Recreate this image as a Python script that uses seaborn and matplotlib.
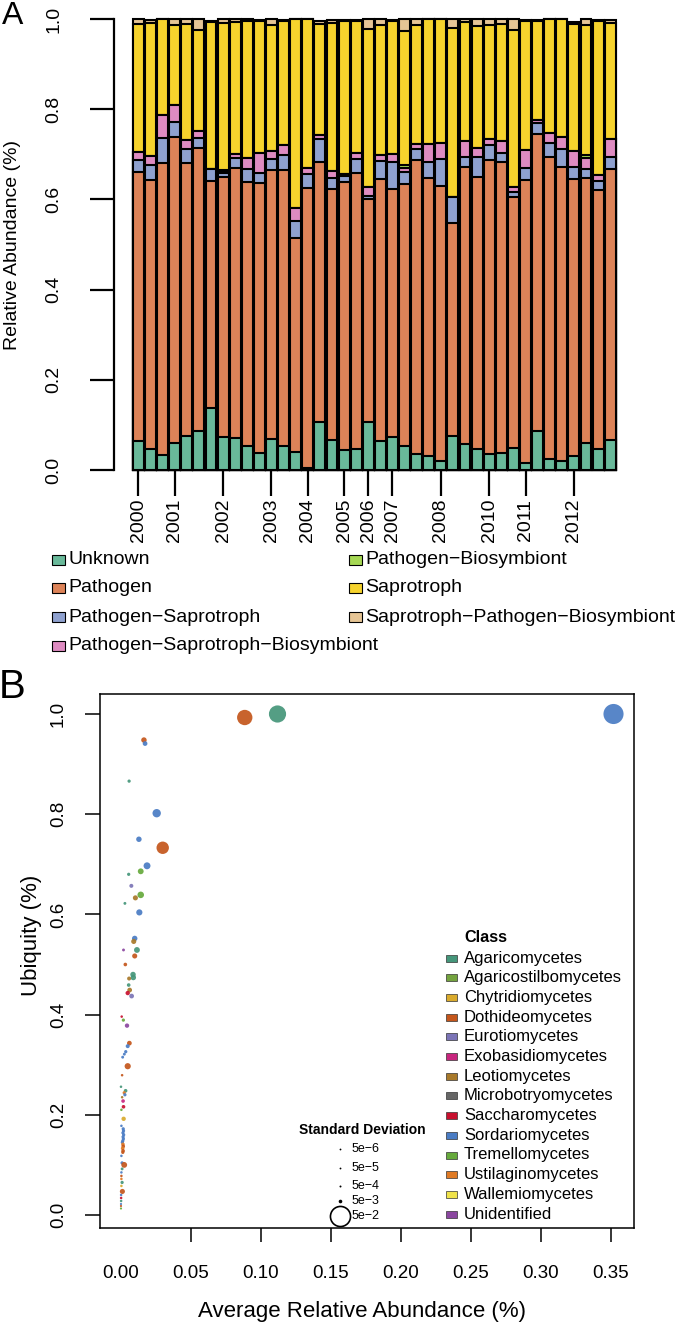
import numpy as np
import pandas as pd
import matplotlib.pyplot as plt
import seaborn as sns
from matplotlib.patches import Rectangle
from matplotlib.lines import Line2D


# PANEL A DATA  (guild share per sample, stacked bottom -> top)

guilds = [
    "Unknown",
    "Pathogen",
    "Pathogen\u2212Saprotroph",
    "Pathogen\u2212Saprotroph\u2212Biosymbiont",
    "Pathogen\u2212Biosymbiont",
    "Saprotroph",
    "Saprotroph\u2212Pathogen\u2212Biosymbiont",
]
guild_colors = ["#69b99a", "#dd8358", "#8fa1cf", "#de8bc1", "#a6d854", "#f6d32d", "#e6c595"]

unknown = [.064, .046, .033, .059, .076, .087, .137, .073, .070, .054,
           .038, .068, .054, .039, .004, .107, .067, .044, .047, .107,
           .065, .073, .054, .036, .030, .019, .075, .058, .046, .036,
           .037, .048, .016, .086, .024, .021, .032, .060, .047, .067]
pathogen = [.596, .596, .647, .679, .605, .627, .503, .576, .599, .585,
            .598, .597, .611, .476, .622, .577, .556, .595, .611, .494,
            .580, .550, .580, .651, .617, .611, .472, .613, .604, .651,
            .647, .558, .628, .659, .671, .650, .613, .587, .574, .600]
path_sap = [.027, .034, .056, .033, .030, .023, .027, .009, .022, .028,
            .023, .025, .034, .038, .030, .049, .024, .014, .032, .006,
            .041, .061, .027, .024, .035, .060, .059, .024, .045, .034,
            .018, .011, .025, .024, .031, .040, .026, .020, .020, .028]
path_sap_bio = [.019, .021, .051, .039, .021, .015, .000, .004, .010, .024,
                .043, .017, .022, .029, .013, .010, .017, .004, .014, .020,
                .013, .016, .008, .012, .042, .036, .000, .035, .020, .012,
                .028, .010, .041, .007, .021, .028, .036, .024, .013, .038]
path_bio = [0, 0, 0, 0, 0, 0, 0, .004, 0, 0,
            0, 0, 0, 0, 0, 0, 0, 0, 0, 0,
            0, 0, .007, 0, 0, 0, 0, 0, 0, 0,
            0, 0, 0, 0, 0, 0, 0, .007, 0, 0]
saprotroph = [.284, .294, .212, .177, .257, .223, .326, .325, .292, .304,
              .293, .280, .274, .417, .330, .246, .327, .338, .291, .351,
              .288, .295, .297, .264, .275, .273, .374, .263, .269, .254,
              .260, .348, .285, .219, .252, .260, .281, .289, .341, .258]
sap_path_bio = [.009, .007, .001, .013, .010, .025, .003, .009, .006, .004,
                .002, .012, .002, .001, .001, .006, .006, .002, .003, .021,
                .012, .003, .026, .012, .001, .001, .019, .006, .015, .012,
                .009, .024, .002, .002, .001, .001, .005, .012, .002, .007]

year_labels = ["2000", "2001", "2002", "2003", "2004", "2005",
               "2006", "2007", "2008", "2010", "2011", "2012"]
year_bars = [0, 3, 7, 11, 14, 17, 19, 21, 25, 29, 32, 36]


# PANEL B DATA  (one point per taxon)

classes = [
    "Agaricomycetes", "Agaricostilbomycetes", "Chytridiomycetes", "Dothideomycetes",
    "Eurotiomycetes", "Exobasidiomycetes", "Leotiomycetes", "Microbotryomycetes",
    "Saccharomycetes", "Sordariomycetes", "Tremellomycetes", "Ustilaginomycetes",
    "Wallemiomycetes", "Unidentified",
]
class_colors = ["#45967a", "#74a33f", "#d9aa2c", "#c4561b", "#7b74b6", "#c8267e", "#a8792a",
                "#666666", "#c8102e", "#4a7cc4", "#66aa3c", "#e07a24", "#efe24a", "#8b46a0"]

point_class = [
    "Sordariomycetes", "Agaricomycetes", "Dothideomycetes", "Dothideomycetes", "Sordariomycetes",
    "Agaricomycetes", "Sordariomycetes", "Sordariomycetes", "Dothideomycetes", "Sordariomycetes",
    "Tremellomycetes", "Agaricomycetes", "Eurotiomycetes", "Tremellomycetes", "Leotiomycetes",
    "Agaricomycetes", "Sordariomycetes", "Sordariomycetes", "Leotiomycetes", "Unidentified",
    "Agaricomycetes", "Dothideomycetes", "Dothideomycetes", "Agaricomycetes", "Agaricomycetes",
    "Leotiomycetes", "Agaricomycetes", "Leotiomycetes", "Saccharomycetes", "Eurotiomycetes",
    "Saccharomycetes", "Tremellomycetes", "Unidentified", "Dothideomycetes", "Sordariomycetes",
    "Sordariomycetes", "Sordariomycetes", "Sordariomycetes", "Dothideomycetes", "Dothideomycetes",
    "Agaricomycetes", "Agaricomycetes", "Ustilaginomycetes", "Sordariomycetes", "Leotiomycetes",
    "Exobasidiomycetes", "Saccharomycetes", "Tremellomycetes", "Chytridiomycetes", "Sordariomycetes",
    "Sordariomycetes", "Sordariomycetes", "Sordariomycetes", "Sordariomycetes", "Sordariomycetes",
    "Sordariomycetes", "Sordariomycetes", "Sordariomycetes", "Ustilaginomycetes", "Dothideomycetes",
    "Ustilaginomycetes", "Dothideomycetes", "Dothideomycetes", "Sordariomycetes", "Sordariomycetes",
    "Dothideomycetes", "Agaricomycetes", "Sordariomycetes", "Dothideomycetes", "Ustilaginomycetes",
    "Agaricomycetes", "Chytridiomycetes", "Dothideomycetes", "Sordariomycetes", "Saccharomycetes",
    "Agaricomycetes", "Sordariomycetes", "Dothideomycetes", "Tremellomycetes",
]
avg_abund = [
    0.352, 0.112, 0.0886, 0.0166, 0.0174, 0.0060, 0.0257, 0.0130, 0.0300, 0.0188,
    0.0143, 0.0057, 0.0076, 0.0143, 0.0105, 0.0030, 0.0133, 0.0100, 0.0093, 0.0020,
    0.0116, 0.0100, 0.0033, 0.0088, 0.0090, 0.0060, 0.0057, 0.0064, 0.0050, 0.0078,
    0.0007, 0.0019, 0.0045, 0.0062, 0.0050, 0.0036, 0.0026, 0.0014, 0.0050, 0.0010,
    0.0002, 0.0035, 0.0025, 0.0030, 0.0010, 0.0017, 0.0020, 0.0005, 0.0021, 0.0005,
    0.0018, 0.0020, 0.0016, 0.0021, 0.0017, 0.0019, 0.0015, 0.0012, 0.0016, 0.0018,
    0.0014, 0.0017, 0.0015, 0.0005, 0.0010, 0.0025, 0.0010, 0.0005, 0.0005, 0.0005,
    0.0010, 0.0005, 0.0012, 0.0003, 0.0003, 0.0003, 0.0002, 0.0002, 0.0002,
]
ubiquity = [
    1.000, 1.000, 0.993, 0.948, 0.941, 0.866, 0.802, 0.750, 0.733, 0.697,
    0.686, 0.680, 0.657, 0.639, 0.633, 0.622, 0.604, 0.552, 0.546, 0.529,
    0.529, 0.517, 0.500, 0.480, 0.474, 0.472, 0.459, 0.449, 0.443, 0.437,
    0.396, 0.389, 0.378, 0.343, 0.337, 0.326, 0.321, 0.315, 0.297, 0.279,
    0.256, 0.248, 0.244, 0.240, 0.235, 0.2275, 0.216, 0.210, 0.192, 0.178,
    0.172, 0.168, 0.164, 0.160, 0.156, 0.152, 0.148, 0.145, 0.141, 0.137,
    0.133, 0.128, 0.125, 0.118, 0.104, 0.100, 0.092, 0.085, 0.078, 0.072,
    0.065, 0.058, 0.047, 0.040, 0.034, 0.028, 0.022, 0.018, 0.013,
]
std_dev = [
    0.050, 0.042, 0.037, 0.010, 0.008, 0.004, 0.018, 0.010, 0.029, 0.014,
    0.011, 0.004, 0.006, 0.013, 0.009, 0.003, 0.012, 0.010, 0.009, 0.003,
    0.011, 0.009, 0.005, 0.010, 0.010, 0.006, 0.005, 0.008, 0.007, 0.008,
    0.002, 0.004, 0.007, 0.008, 0.006, 0.004, 0.003, 0.003, 0.012, 0.002,
    0.002, 0.005, 0.004, 0.004, 0.002, 0.005, 0.005, 0.002, 0.007, 0.002,
    0.004, 0.004, 0.004, 0.004, 0.004, 0.004, 0.004, 0.004, 0.005, 0.005,
    0.005, 0.005, 0.004, 0.002, 0.004, 0.011, 0.003, 0.002, 0.002, 0.002,
    0.004, 0.002, 0.009, 0.002, 0.002, 0.002, 0.001, 0.001, 0.001,
]

sd_legend = [5e-6, 5e-5, 5e-4, 5e-3, 5e-2]
sd_labels = ["5e\u22126", "5e\u22125", "5e\u22124", "5e\u22123", "5e\u22122"]


# STYLE

sns.set_style("ticks", rc={
    "axes.edgecolor": "black",
    "xtick.color": "black",
    "ytick.color": "black",
    "text.color": "black",
    "axes.labelcolor": "black",
})
plt.rcParams["font.family"] = ["Liberation Sans", "DejaVu Sans"]

W, H = 677, 1325


def fx(px):
    return px / W


def fy(py):
    return 1 - py / H


def dot_px(sd):
    # marker diameter in pixels grows with the standard deviation
    return 1.8 + 366 * sd


fig = plt.figure(figsize=(6.77, 13.25), dpi=100)


# PANEL A - STACKED BARS

dfA = pd.DataFrame(dict(zip(guilds, [unknown, pathogen, path_sap, path_sap_bio,
                                     path_bio, saprotroph, sap_path_bio])))
cumA = dfA.cumsum(axis=1)
bar_idx = np.arange(len(dfA))

axA = fig.add_axes([fx(114), fy(470), (634.6 - 114) / W, 469 / H])

# draw the cumulative totals from the top layer down, so each layer sits on the last
for g, c in reversed(list(zip(guilds, guild_colors))):
    sns.barplot(
        x=bar_idx,
        y=cumA[g].values,
        color=c,
        saturation=1,
        edgecolor="black",
        linewidth=1.5,
        width=0.9,
        errorbar=None,
        ax=axA
    )

for p in axA.patches:
    p.set_clip_on(False)

axA.set_xlim(-2.017, 41.017)
axA.set_ylim(0, 1.04)
sns.despine(ax=axA, bottom=True)
axA.spines["left"].set_bounds(0, 1)
axA.spines["left"].set_linewidth(1.6)

axA.set_xticks(year_bars)
axA.set_xticklabels(year_labels, rotation=90)
axA.tick_params(axis="x", length=18.7, width=1.6, pad=2, labelsize=14)

axA.set_yticks(np.arange(0, 1.01, 0.2))
axA.set_yticklabels([f"{v:.1f}" for v in np.arange(0, 1.01, 0.2)])
axA.tick_params(axis="y", length=17.3, width=1.6, pad=20, labelsize=14, labelrotation=90)
for lab in axA.get_yticklabels():
    lab.set_va("center")

axA.set_xlabel("")
axA.set_ylabel("")

fig.text(fx(12.5), fy(16.5), "A", fontsize=23, ha="center", va="center")
fig.text(fx(13), fy(245), "Relative Abundance (%)", rotation=90,
         ha="center", va="center", fontsize=14)

# legend of panel A, two columns as in the original
rows_y = [560, 588, 617, 646]
for i, (g, c) in enumerate(zip(guilds, guild_colors)):
    col = 0 if i < 4 else 1
    row = i if i < 4 else i - 4
    x_sq = 52 if col == 0 else 349
    y = rows_y[row]
    fig.add_artist(Rectangle((fx(x_sq), fy(y + 5)), 13 / W, 10 / H,
                             facecolor=c, edgecolor="black", linewidth=0.8,
                             transform=fig.transFigure))
    fig.text(fx(x_sq + 16), fy(y), g, fontsize=14, ha="left", va="center")


# PANEL B - UBIQUITY VS ABUNDANCE

dfB = pd.DataFrame({
    "Class": point_class,
    "Abundance": avg_abund,
    "Ubiquity": ubiquity,
    "SD": std_dev,
})
sizes = [(dot_px(s) * 0.72) ** 2 for s in dfB["SD"]]

axB = fig.add_axes([fx(100), fy(1228), 534 / W, 534 / H])

sns.scatterplot(
    data=dfB,
    x="Abundance",
    y="Ubiquity",
    hue="Class",
    palette=dict(zip(classes, class_colors)),
    s=sizes,
    linewidth=0,
    alpha=0.92,
    legend=False,
    ax=axB
)

axB.set_xlim(-0.01479, 0.36664)
axB.set_ylim(-0.02595, 1.03992)
for sp in axB.spines.values():
    sp.set_linewidth(1.1)

xt = np.arange(0, 0.351, 0.05)
axB.set_xticks(xt)
axB.set_xticklabels([f"{v:.2f}" for v in xt])
axB.tick_params(axis="x", length=10, width=1.1, pad=16.5, labelsize=13.5)
axB.xaxis.get_major_ticks()[0].tick1line.set_visible(False)

yt = np.arange(0, 1.01, 0.2)
axB.set_yticks(yt)
axB.set_yticklabels([f"{v:.1f}" for v in yt])
axB.tick_params(axis="y", length=10.8, width=1.1, pad=13, labelsize=13.5, labelrotation=90)
for lab in axB.get_yticklabels():
    lab.set_va("center")

axB.set_xlabel("")
axB.set_ylabel("")

fig.text(fx(12.5), fy(687.5), "B", fontsize=29, ha="center", va="center")
fig.text(fx(362), fy(1312), "Average Relative Abundance (%)",
         ha="center", va="center", fontsize=16)
fig.text(fx(32), fy(935), "Ubiquity (%)", rotation=90,
         ha="center", va="center", fontsize=16)

# class legend
fig.text(fx(464), fy(938), "Class", fontsize=11.7, fontweight="bold", ha="left", va="center")
for k, (cl, c) in enumerate(zip(classes, class_colors)):
    y = 958 + 19.7 * k
    fig.add_artist(Rectangle((fx(446), fy(y + 3.5)), 11 / W, 7 / H,
                             facecolor=c, edgecolor="#333333", linewidth=0.5,
                             transform=fig.transFigure))
    fig.text(fx(464), fy(y), cl, fontsize=12, ha="left", va="center")

# standard deviation legend
fig.text(fx(362), fy(1130), "Standard Deviation", fontsize=10, fontweight="bold",
         ha="center", va="center")
sd_rows = [1149, 1168, 1186, 1201, 1216]
for s, lab, y in zip(sd_legend, sd_labels, sd_rows):
    if s >= 0.05:
        mk = Line2D([fx(340)], [fy(y)], marker="o", markersize=dot_px(s) * 0.72,
                    markerfacecolor="none", markeredgecolor="black",
                    markeredgewidth=1.2, linestyle="none", transform=fig.transFigure)
    else:
        mk = Line2D([fx(340)], [fy(y)], marker="o", markersize=dot_px(s) * 0.72,
                    markerfacecolor="black", markeredgewidth=0,
                    linestyle="none", transform=fig.transFigure)
    fig.add_artist(mk)
    fig.text(fx(352), fy(y), lab, fontsize=9, ha="left", va="center")


fig.savefig("out.png", dpi=100)
